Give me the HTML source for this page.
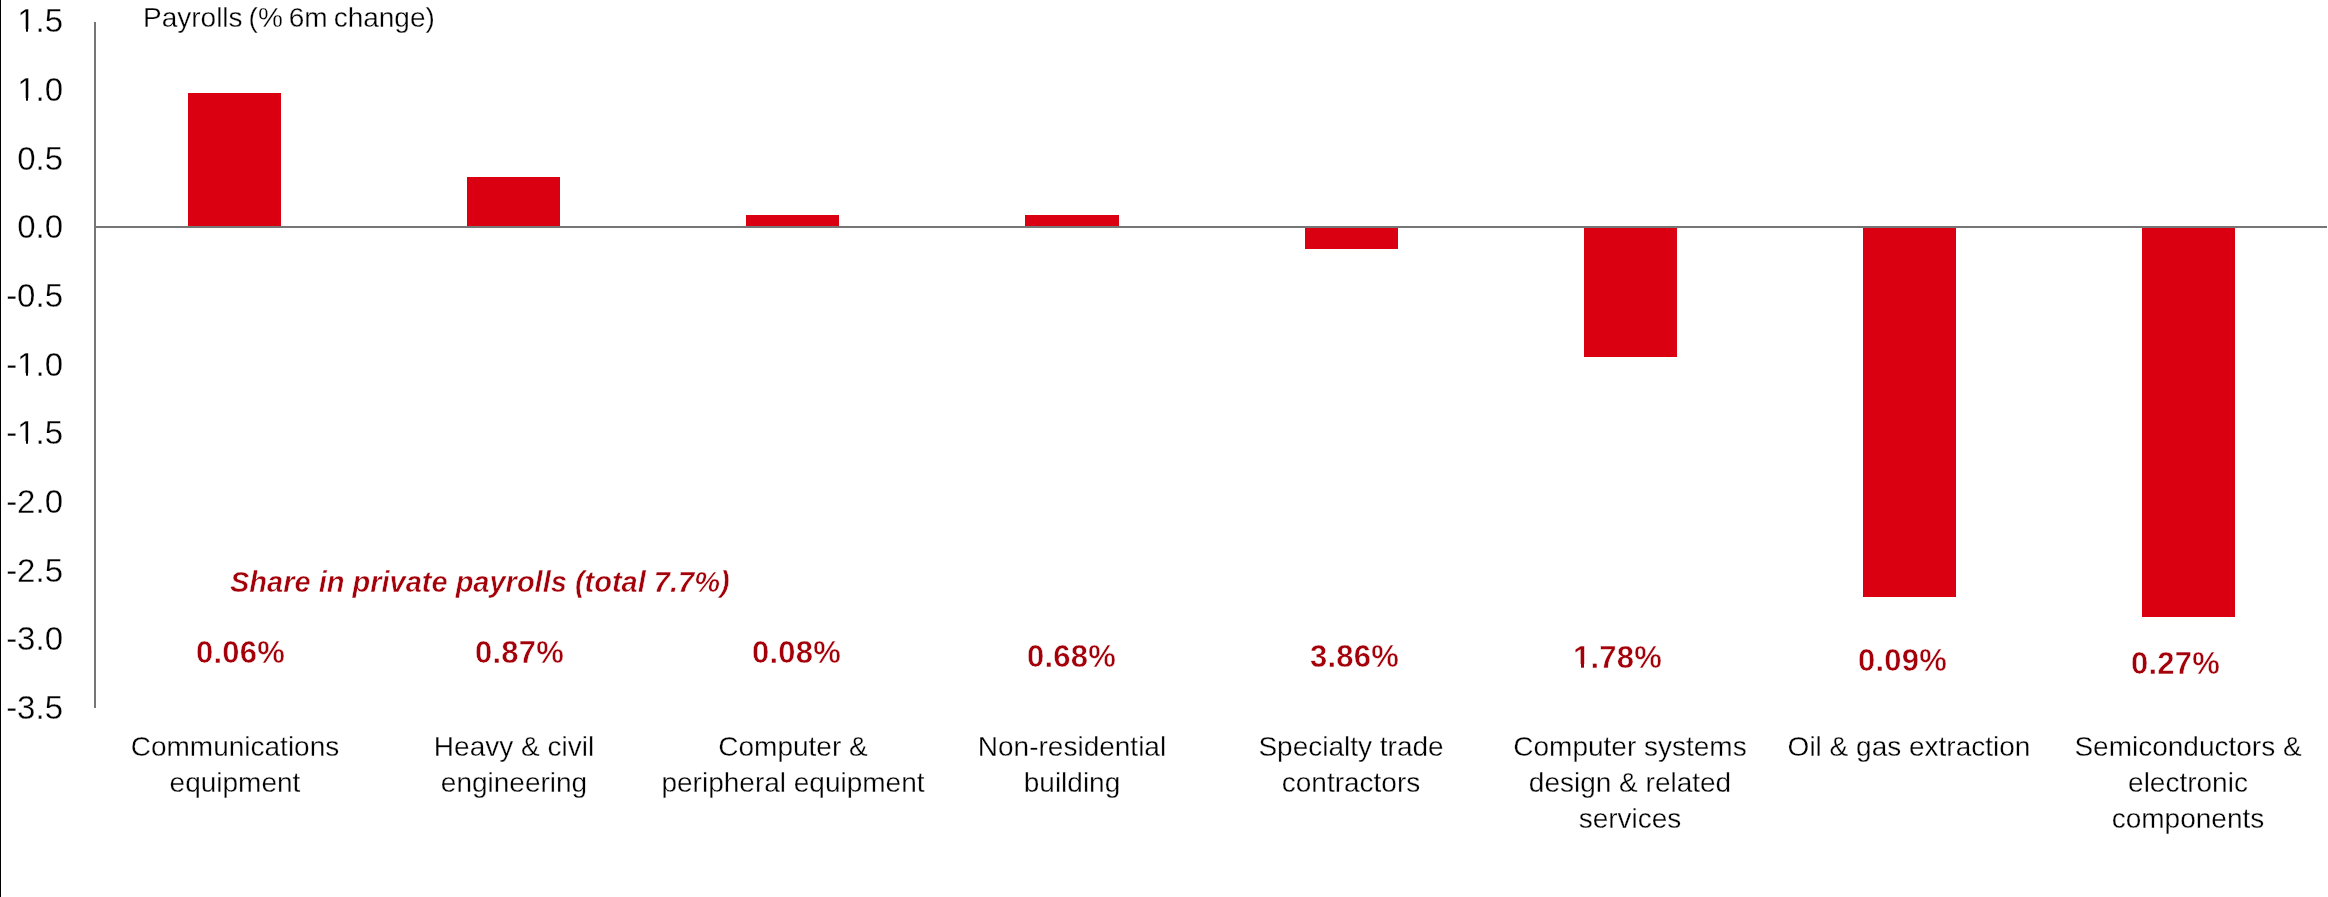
<!DOCTYPE html>
<html>
<head>
<meta charset="utf-8">
<title>Payrolls (% 6m change)</title>
<style>
  html, body { margin: 0; padding: 0; background: #ffffff; }
  body { width: 2328px; height: 897px; position: relative; overflow: hidden;
         font-family: "Liberation Sans", sans-serif; color: #000; }
  .tick,.title,.cat,.pct,.note { will-change: transform; }
  .tick, .title, .cat { -webkit-text-stroke: 0.3px #ffffff; }
  .pct, .note { -webkit-text-stroke: 0.5px #ffffff; }
  .abs { position: absolute; }
  .edge { left: 0; top: 0; width: 1px; height: 897px; background: #000; }
  .bar { position: absolute; background: #db0011; }
  .yaxis { left: 94px; top: 22px; width: 2px; height: 686px; background: #767676; }
  .xaxis { left: 94px; top: 226px; width: 2233px; height: 2px; background: #767676; }
  .tick { position: absolute; left: 0; width: 63px; text-align: right;
          font-size: 33px; line-height: 40px; height: 40px; white-space: nowrap; }
  .tick i { position: absolute; top: 28px; height: 4px; background: #ffffff; }
  .tick i.a { left: 17px; width: 9px; }
  .tick i.b { left: 28px; width: 8px; }
  .title { position: absolute; left: 142.8px; top: 0px; font-size: 28px; word-spacing: -1.8px; line-height: 36px; white-space: nowrap; }
  .cat { position: absolute; top: 729px; width: 320px; text-align: center;
         font-size: 28px; line-height: 36px; white-space: nowrap; }
  .pct { position: absolute; font-weight: bold; font-size: 31px; line-height: 34px; letter-spacing: 0.25px;
         color: #a30009; white-space: nowrap; }
  .pct i { position: absolute; top: 23px; height: 4px; background: #ffffff; }
  .pct i.a { left: 0px; width: 8px; }
  .pct i.b { left: 11px; width: 7px; }
  .note { position: absolute; left: 230px; top: 566px; font-weight: bold; font-style: italic;
          font-size: 29px; line-height: 32px; color: #a30009; white-space: nowrap; }
</style>
</head>
<body>
  <div class="abs edge"></div>

  <!-- bars -->
  <div class="bar" style="left:188px; top:93px;  width:93px; height:134px;"></div>
  <div class="bar" style="left:467px; top:177px; width:93px; height:50px;"></div>
  <div class="bar" style="left:746px; top:215px; width:93px; height:12px;"></div>
  <div class="bar" style="left:1025px; top:215px; width:94px; height:12px;"></div>
  <div class="bar" style="left:1305px; top:227px; width:93px; height:22px;"></div>
  <div class="bar" style="left:1584px; top:227px; width:93px; height:130px;"></div>
  <div class="bar" style="left:1863px; top:227px; width:93px; height:370px;"></div>
  <div class="bar" style="left:2142px; top:227px; width:93px; height:390px;"></div>

  <!-- axes -->
  <div class="abs yaxis"></div>
  <div class="abs xaxis"></div>

  <!-- y tick labels -->
  <div class="tick" style="top:1px;">1.5<i class="a"></i><i class="b"></i></div>
  <div class="tick" style="top:70px;">1.0<i class="a"></i><i class="b"></i></div>
  <div class="tick" style="top:139px;">0.5</div>
  <div class="tick" style="top:207px;">0.0</div>
  <div class="tick" style="top:276px;">-0.5</div>
  <div class="tick" style="top:345px;">-1.0<i class="a"></i><i class="b"></i></div>
  <div class="tick" style="top:413px;">-1.5<i class="a"></i><i class="b"></i></div>
  <div class="tick" style="top:482px;">-2.0</div>
  <div class="tick" style="top:551px;">-2.5</div>
  <div class="tick" style="top:619px;">-3.0</div>
  <div class="tick" style="top:688px;">-3.5</div>

  <!-- title -->
  <div class="title">Payrolls (% 6m change)</div>

  <!-- annotation -->
  <div class="note">Share in private payrolls (total 7.7%)</div>

  <!-- share labels -->
  <div class="pct" style="left:196px; top:636px;">0.06%</div>
  <div class="pct" style="left:474.6px; top:636px;">0.87%</div>
  <div class="pct" style="left:752.4px; top:636px;">0.08%</div>
  <div class="pct" style="left:1026.7px; top:640px;">0.68%</div>
  <div class="pct" style="left:1310px; top:640px;">3.86%</div>
  <div class="pct" style="left:1573px; top:641px;">1.78%<i class="a"></i><i class="b"></i></div>
  <div class="pct" style="left:1857.8px; top:644px;">0.09%</div>
  <div class="pct" style="left:2130.6px; top:647px;">0.27%</div>

  <!-- category labels -->
  <div class="cat" style="left:75px;">Communications<br>equipment</div>
  <div class="cat" style="left:354px;">Heavy &amp; civil<br>engineering</div>
  <div class="cat" style="left:633px;">Computer &amp;<br>peripheral equipment</div>
  <div class="cat" style="left:912px;">Non-residential<br>building</div>
  <div class="cat" style="left:1191px;">Specialty trade<br>contractors</div>
  <div class="cat" style="left:1470px;">Computer systems<br>design &amp; related<br>services</div>
  <div class="cat" style="left:1749px;">Oil &amp; gas extraction</div>
  <div class="cat" style="left:2028px;">Semiconductors &amp;<br>electronic<br>components</div>
</body>
</html>
